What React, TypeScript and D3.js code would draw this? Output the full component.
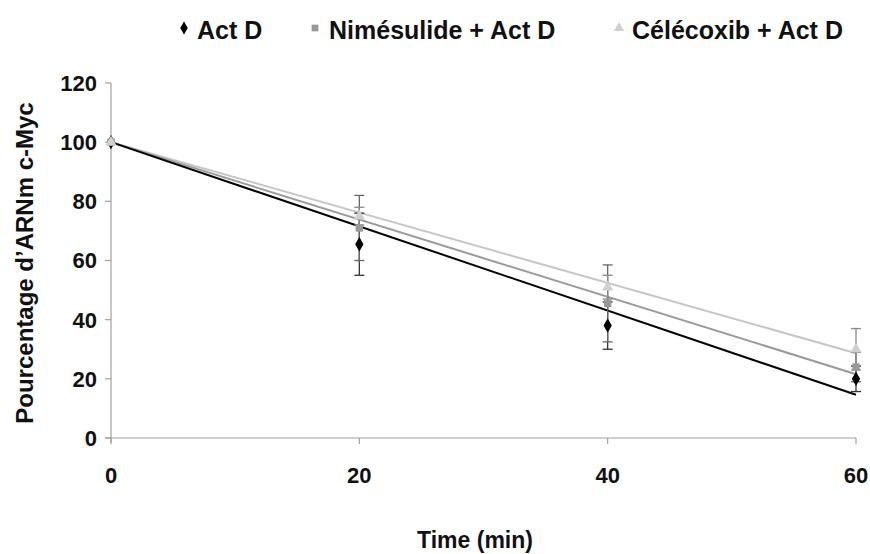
import React from "react";
import * as d3 from "d3";

const times = [0, 20, 40, 60];
const seriesNames = ["Act D", "Nimésulide + Act D", "Célécoxib + Act D"];
const actD = [100, 65.5, 38, 20];
const actDErr = [0, 10.5, 8, 4.3];
const nime = [100, 71, 45.5, 24];
const nimeErr = [0, 11, 13, 5];
const cele = [100, 75, 51, 30];
const celeErr = [0, 3, 4, 7];
const yTicks = [0, 20, 40, 60, 80, 100, 120];
const xTicks = [0, 20, 40, 60];

const W = 870, H = 554;
const FONT = "'Liberation Sans', Arial, sans-serif";

export default function App() {
  const x = d3.scaleLinear().domain([0, 60]).range([111, 856]);
  const y = d3.scaleLinear().domain([0, 120]).range([438, 83]);

  const series = [
    { name: seriesNames[0], vals: actD, err: actDErr, line: "#000", marker: "#000", shape: "diamond", errColor: "#333" },
    { name: seriesNames[1], vals: nime, err: nimeErr, line: "#9a9a9a", marker: "#999", shape: "square", errColor: "#666" },
    { name: seriesNames[2], vals: cele, err: celeErr, line: "#c6c6c6", marker: "#d0d0d0", shape: "triangle", errColor: "#888" },
  ];

  // Excel-style linear trendline with intercept fixed at 100
  const fit = (vals: number[]) => {
    let num = 0, den = 0;
    times.forEach((t, i) => { num += t * (vals[i] - 100); den += t * t; });
    const slope = num / den;
    return (t: number) => 100 + slope * t;
  };

  const sym = (shape: string, size: number) => {
    const t = shape === "diamond" ? d3.symbolDiamond : shape === "square" ? d3.symbolSquare : d3.symbolTriangle;
    return d3.symbol().type(t).size(size)() as string;
  };

  return (
    <svg width={W} height={H} style={{ display: "block", position: "absolute", left: 0, top: 0 }}>
      <rect width={W} height={H} fill="#fff" />
      {/* axes */}
      <g stroke="#a0a0a0" strokeWidth={1.2} fill="none">
        <line x1={x(0)} x2={x(0)} y1={y(120)} y2={y(0) + 5} />
        <line x1={x(0) - 6} x2={x(60)} y1={y(0)} y2={y(0)} />
        {yTicks.map((t) => (
          <line key={"yt" + t} x1={x(0) - 6} x2={x(0)} y1={y(t)} y2={y(t)} />
        ))}
        {xTicks.map((t) => (
          <line key={"xt" + t} x1={x(t)} x2={x(t)} y1={y(0)} y2={y(0) + 6} />
        ))}
      </g>
      {yTicks.map((t) => (
        <text key={"yl" + t} x={97} y={y(t)} dy="0.36em" textAnchor="end" fontFamily={FONT} fontWeight="bold" fontSize={22} fill="#111">
          {t}
        </text>
      ))}
      {xTicks.map((t) => (
        <text key={"xl" + t} x={x(t)} y={483} textAnchor="middle" fontFamily={FONT} fontWeight="bold" fontSize={22} fill="#111">
          {t}
        </text>
      ))}
      <text x={475} y={548} textAnchor="middle" fontFamily={FONT} fontWeight="bold" fontSize={23} fill="#111">
        Time (min)
      </text>
      <text transform={`translate(33,263) rotate(-90)`} textAnchor="middle" fontFamily={FONT} fontWeight="bold" fontSize={24} fill="#111">
        Pourcentage d’ARNm c-Myc
      </text>

      {/* trendlines */}
      {series.slice().reverse().map((s) => {
        const f = fit(s.vals);
        return (
          <line key={"tl" + s.name} x1={x(0)} y1={y(f(0))} x2={x(60)} y2={y(f(60))} stroke={s.line} strokeWidth={2} />
        );
      })}

      {/* error bars */}
      {series.map((s) =>
        times.map((t, i) =>
          s.err[i] > 0 ? (
            <g key={"eb" + s.name + t} stroke={s.errColor} strokeWidth={1.3}>
              <line x1={x(t)} x2={x(t)} y1={y(s.vals[i] + s.err[i])} y2={y(s.vals[i] - s.err[i])} />
              <line x1={x(t) - 5} x2={x(t) + 5} y1={y(s.vals[i] + s.err[i])} y2={y(s.vals[i] + s.err[i])} />
              <line x1={x(t) - 5} x2={x(t) + 5} y1={y(s.vals[i] - s.err[i])} y2={y(s.vals[i] - s.err[i])} />
            </g>
          ) : null
        )
      )}

      {/* markers */}
      {series.map((s) =>
        times.map((t, i) => (
          <path key={"m" + s.name + t} d={sym(s.shape, s.shape === "diamond" ? 60 : 55)} transform={`translate(${x(t)},${y(s.vals[i])})`} fill={s.marker} />
        ))
      )}

      {/* legend */}
      {[
        { mx: 184, tx: 197 },
        { mx: 315, tx: 329 },
        { mx: 619, tx: 632 },
      ].map((p, i) => (
        <g key={"lg" + i}>
          <path d={sym(series[i].shape, series[i].shape === "diamond" ? 50 : 45)} transform={`translate(${p.mx},${28})`} fill={series[i].marker} />
          <text x={p.tx} y={39} fontFamily={FONT} fontWeight="bold" fontSize={25} fill="#111">
            {series[i].name}
          </text>
        </g>
      ))}
    </svg>
  );
}
